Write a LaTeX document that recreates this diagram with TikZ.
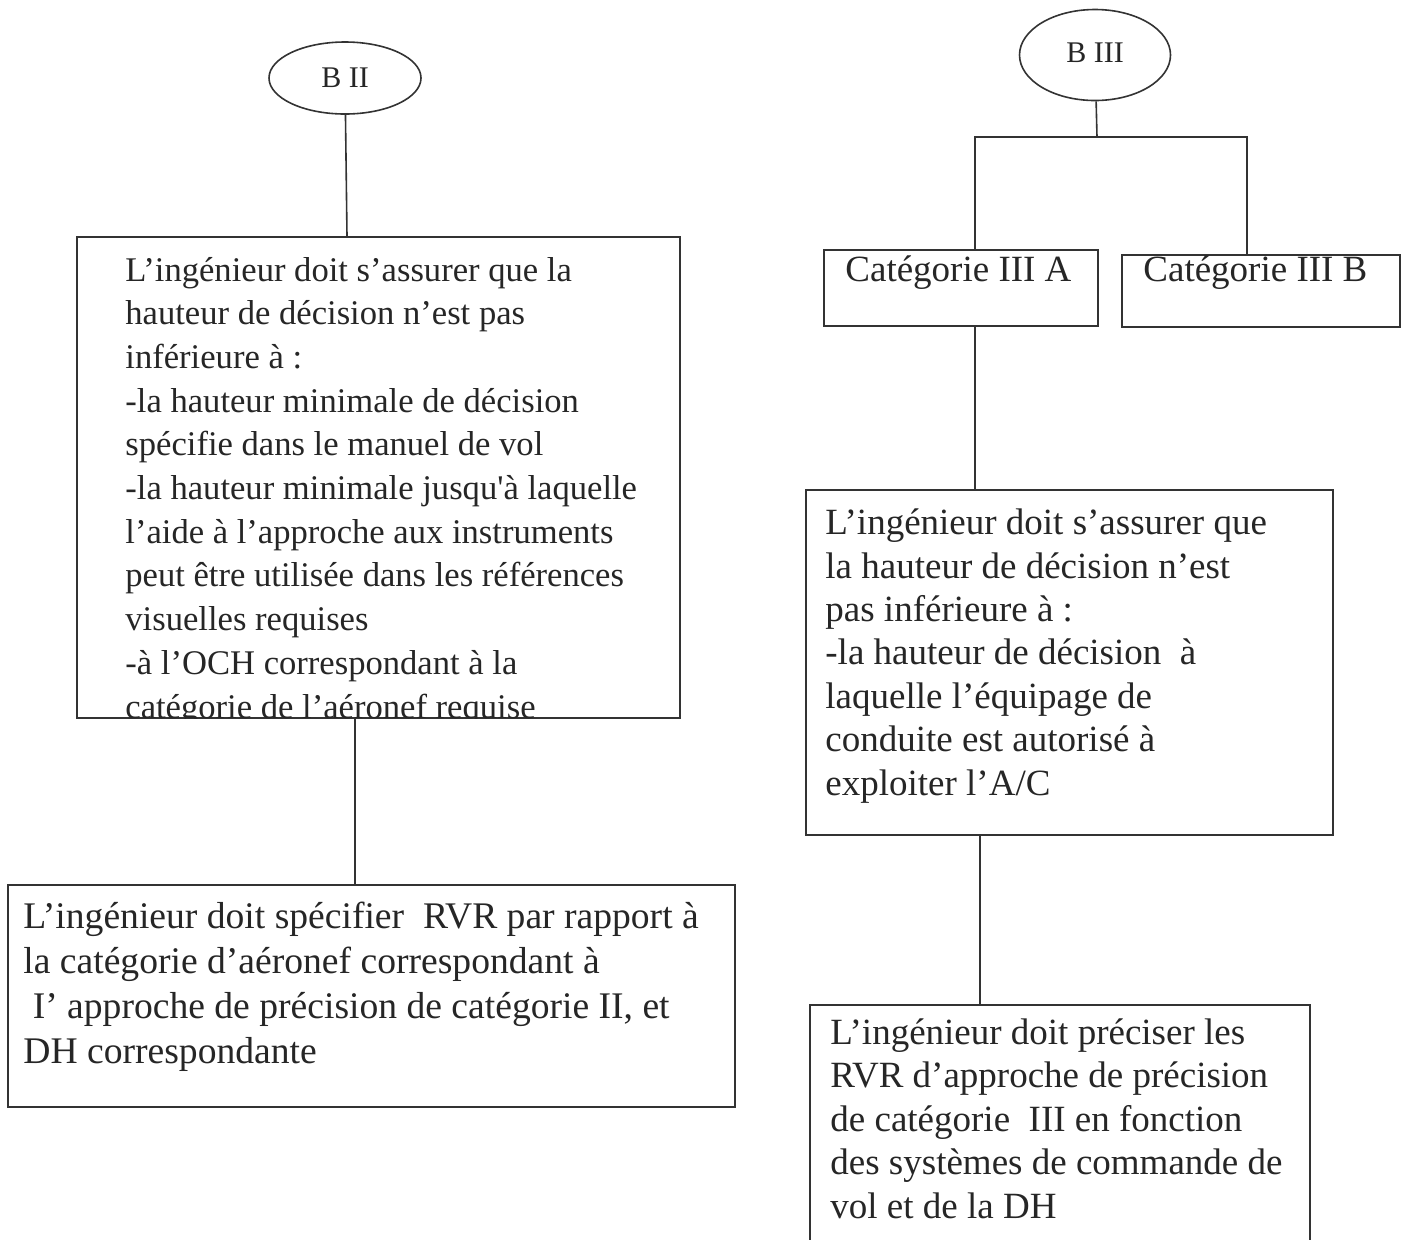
\documentclass[tikz,border=0pt]{standalone}
\usepackage{fontspec}
\setmainfont{Liberation Serif}
\usetikzlibrary{shapes.geometric,fit,calc}
\begin{document}
\begin{tikzpicture}[x=0.5pt,y=-0.5pt,
  ink/.style={draw=black!80, line width=0.8pt},
  frame/.style={ink, rectangle, inner sep=0pt},
  oval/.style={ink, ellipse, inner sep=0pt, font=\fontsize{15}{18}\selectfont, text=black!85},
  % multi-line texts are anchored on the baseline of their last line
  txt/.style={anchor=base west, align=left, inner sep=0pt, text=black!85,
              font=\fontsize{18.5}{21.7}\selectfont},
  wire/.style={ink}]
\useasboundingbox[fill=white] (0,0) rectangle (1408,1239);
\clip (0,0) rectangle (1408,1239);

% ---- left branch: B II ----
\node[oval, minimum width=76pt, minimum height=36pt] (b2) at (345,78) {B II};
\node[frame, fit={(77,237) (680,718)}] (b2a) {};
\node[frame, fit={(8,885) (735,1107)}] (b2b) {};

% the last line runs into the bottom edge of its box and is cut there
\begin{scope}
  \clip (b2a.north west) rectangle (b2a.south east);
  \node[txt, font=\fontsize{17.3}{21.85}\selectfont] (t2a) at (125,718) {L’ingénieur doit s’assurer que la\\
hauteur de décision n’est pas\\
inférieure à :\\
-la hauteur minimale de décision\\
spécifie dans le manuel de vol\\
-la hauteur minimale jusqu\textquotesingle à laquelle\\
l’aide à l’approche aux instruments\\
peut être utilisée dans les références\\
visuelles requises\\
-à l’OCH correspondant à la\\
catégorie de l’aéronef requise};
\end{scope}

\node[txt, font=\fontsize{18.8}{22.5}\selectfont] (t2b) at (23,1063) {L’ingénieur doit spécifier\ \ RVR par rapport à\\
la catégorie d’aéronef correspondant à\\
\ I’ approche de précision de catégorie II, et\\
DH correspondante};

\draw[wire] (b2) -- (347,0 |- b2a.north);
\draw[wire] (355,0 |- b2a.south) -- (355,0 |- b2b.north);

% ---- right branch: B III ----
\node[oval, minimum width=75.5pt, minimum height=45.5pt] (b3) at (1095,55) {\raisebox{2.5pt}{B III}};
\node[frame, fit={(824,250) (1098,326)}] (c3a) {};
\node[frame, fit={(1122,255) (1400,327)}] (c3b) {};
\node[txt] (tc3a) at (845,281) {Catégorie III A};
\node[txt] (tc3b) at (1143,281) {Catégorie III B};
\node[frame, fit={(806,490) (1333,835)}] (r1) {};
\node[frame, fit={(810,1005) (1310,1270)}] (r2) {};

\node[txt] (tr1) at (825,795) {L’ingénieur doit s’assurer que\\
la hauteur de décision n’est\\
pas inférieure à :\\
-la hauteur de décision\ \ à\\
laquelle l’équipage de\\
conduite est autorisé à\\
exploiter l’A/C};

\node[txt] (tr2) at (830,1218) {L’ingénieur doit préciser les\\
RVR d’approche de précision\\
de catégorie\ \ III en fonction\\
des systèmes de commande de\\
vol et de la DH};

\coordinate (fork) at (1097,137);
\draw[wire] (b3) -- (fork);
\draw[wire] (975,0 |- c3a.north) |- (1247,0 |- fork) -- (1247,0 |- c3b.north);
\draw[wire] (975,0 |- c3a.south) -- (975,0 |- r1.north);
\draw[wire] (980,0 |- r1.south) -- (980,0 |- r2.north);
\end{tikzpicture}
\end{document}
